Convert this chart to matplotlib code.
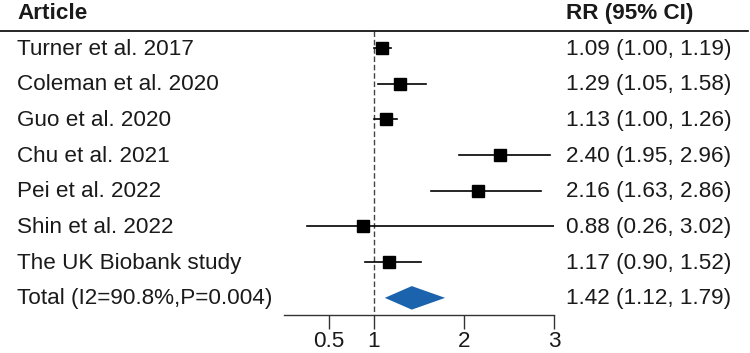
import matplotlib
matplotlib.use("Agg")
import matplotlib.pyplot as plt
import matplotlib.transforms as mtransforms
from matplotlib.patches import Polygon

plt.rcParams['font.family'] = ['Liberation Sans', 'DejaVu Sans']

# data
studies = ["Turner et al. 2017", "Coleman et al. 2020", "Guo et al. 2020",
           "Chu et al. 2021", "Pei et al. 2022", "Shin et al. 2022",
           "The UK Biobank study"]
rr = [1.09, 1.29, 1.13, 2.40, 2.16, 0.88, 1.17]
lower = [1.00, 1.05, 1.00, 1.95, 1.63, 0.26, 0.90]
upper = [1.19, 1.58, 1.26, 2.96, 2.86, 3.02, 1.52]
total_label = "Total (I2=90.8%,P=0.004)"
total_rr, total_lo, total_hi = 1.42, 1.12, 1.79
xticks = [0.5, 1, 2, 3]
xticklabels = ["0.5", "1", "2", "3"]

fig = plt.figure(figsize=(7.5, 3.53), dpi=100)
ax = fig.add_axes([284 / 750, 38 / 353, 270 / 750, 315 / 353])
ax.set_xlim(0, 3)
ax.set_ylim(7.48, -1.345)

txt = '#1a1a1a'
fs = 16.2
rows = list(range(len(studies)))

# CI lines + squares
for r, m, lo, hi in zip(rows, rr, lower, upper):
    ax.plot([lo, hi], [r, r], color='black', lw=1.2, zorder=3)
    ax.plot(m, r, marker='s', color='black', markersize=9, zorder=4)

# pooled diamond
tr = len(studies)
h = 0.33
ax.add_patch(Polygon([[total_lo, tr], [total_rr, tr - h], [total_hi, tr],
                      [total_rr, tr + h]], closed=True,
                     facecolor='#1c63ad', edgecolor='none', zorder=4))

# reference line at 1
ax.vlines(1, -0.476, 7.48, colors='#444444', linestyles=(0, (4, 2)), lw=1.0,
          zorder=2)

# text columns
blend = mtransforms.blended_transform_factory(fig.transFigure, ax.transData)
labels = studies + [total_label]
values = ["%.2f (%.2f, %.2f)" % (m, lo, hi) for m, lo, hi in zip(rr, lower, upper)]
values.append("%.2f (%.2f, %.2f)" % (total_rr, total_lo, total_hi))
for r, (lab, val) in enumerate(zip(labels, values)):
    ax.text(17 / 750, r + 0.03, lab, transform=blend, ha='left', va='center',
            fontsize=fs, color=txt)
    ax.text(566 / 750, r + 0.03, val, transform=blend, ha='left', va='center',
            fontsize=fs, color=txt)

ax.text(17 / 750, -0.96, "Article", transform=blend, ha='left', va='center',
        fontsize=fs, fontweight='bold', color=txt)
ax.text(566 / 750, -0.96, "RR (95% CI)", transform=blend, ha='left', va='center',
        fontsize=fs, fontweight='bold', color=txt)

# header rule
ax.plot([0, 748 / 750], [-0.476, -0.476], transform=blend, color='black',
        lw=1.2, clip_on=False)

# axis styling
for s in ['top', 'right', 'left']:
    ax.spines[s].set_visible(False)
ax.spines['bottom'].set_linewidth(1.0)
ax.spines['bottom'].set_color('#333333')
ax.set_yticks([])
ax.set_xticks(xticks)
ax.set_xticklabels(xticklabels, fontsize=fs, color=txt)
ax.tick_params(axis='x', length=10, width=1.0, color='#333333', pad=1.5)
ax.patch.set_alpha(0)

fig.savefig("out.png", dpi=100)
